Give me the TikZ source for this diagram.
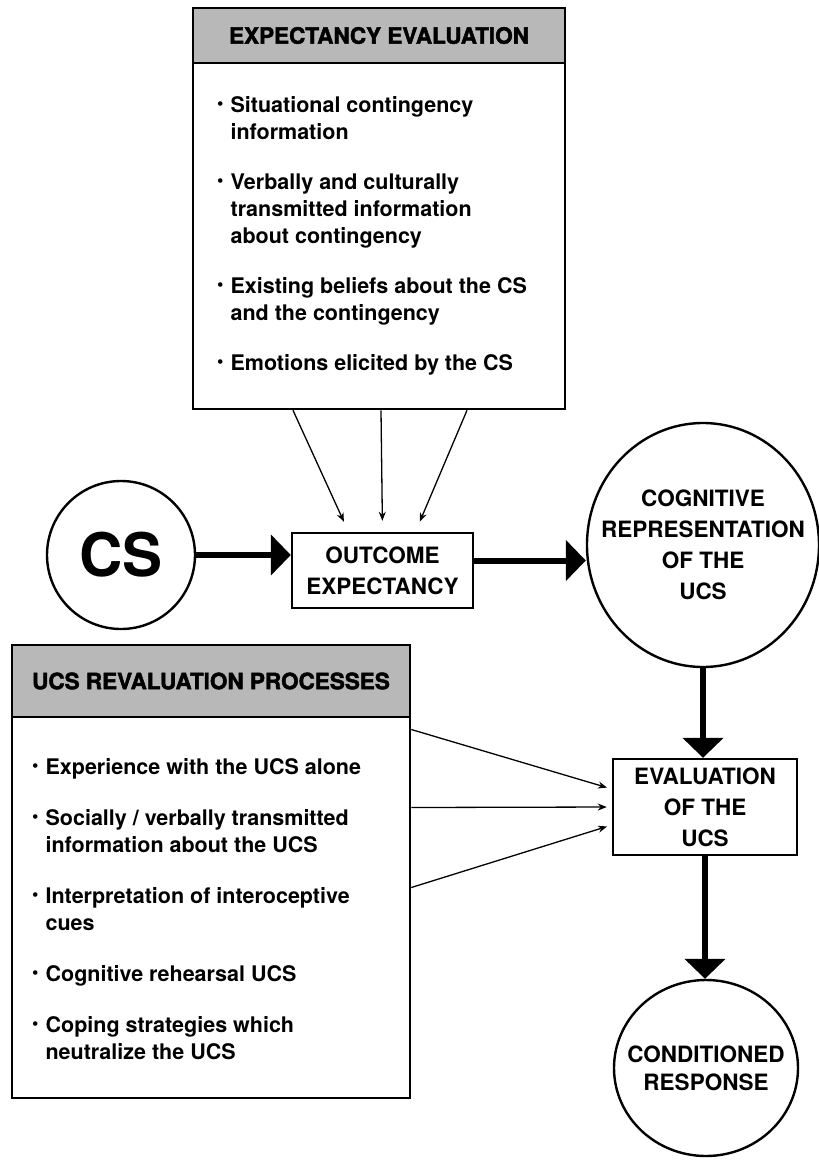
\documentclass[tikz,border=0pt]{standalone}
\usepackage{fontspec}
\setmainfont{TeX Gyre Heros}
\newfontfamily\headfont[BoldFeatures={FakeBold=2}]{TeX Gyre Heros}
\usetikzlibrary{arrows.meta,shapes.geometric}
\newcommand{\bul}{\raisebox{0.2ex}{\scalebox{0.85}{\textbullet}}}
\newcommand{\ctrline}[1]{\makebox[0pt]{#1}}

\begin{document}
\begin{tikzpicture}[x=1pt,y=-1pt,
  every node/.style={font=\bfseries\fontsize{22.5}{31}\selectfont},
  panel/.style={draw,line width=2.6pt,inner sep=0pt},
  panelhead/.style={panel,fill=black!28,font=\headfont\bfseries\fontsize{22.5}{27}\selectfont},
  itemlist/.style={anchor=base west,inner sep=0pt,align=left,font=\bfseries\fontsize{21.5}{27}\selectfont},
  stagebox/.style={draw,line width=2.4pt,inner sep=0pt,align=center},
  stagecirc/.style={draw,circle,line width=2.4pt,inner sep=0pt,align=center},
  stageoval/.style={draw,ellipse,line width=2.4pt,inner sep=0pt,align=center},
  bigarrow/.style={line width=6pt,-{Triangle[length=20pt,width=40pt]}},
  thinarrow/.style={line width=1.3pt,-{Stealth[length=9pt,width=7pt]}}]
\useasboundingbox (0,0) rectangle (819,1162);

% expectancy panel
\node[panel,minimum width=372pt,minimum height=401pt] (expbox) at (379,208.5) {};
\node[panelhead,minimum width=372pt,minimum height=55pt] (exphead) at (379,35.5) {EXPECTANCY EVALUATION};
\node[itemlist] (explist) at (217,112) {\begin{tabular}[t]{@{}l@{\hspace{7pt}}l@{}}
\bul & Situational contingency\\
     & information\\[23pt]
\bul & Verbally and culturally\\
     & transmitted information\\
     & about contingency\\[23pt]
\bul & Existing beliefs about the CS\\
     & and the contingency\\[23pt]
\bul & Emotions elicited by the CS
\end{tabular}};

% revaluation panel
\node[panel,minimum width=398pt,minimum height=453pt] (revbox) at (211,871.5) {};
\node[panelhead,minimum width=398pt,minimum height=72pt] (revhead) at (211,681) {UCS REVALUATION PROCESSES};
\node[itemlist] (revlist) at (32,774) {\begin{tabular}[t]{@{}l@{\hspace{7pt}}l@{}}
\bul & Experience with the UCS alone\\[24pt]
\bul & Socially / verbally transmitted\\
     & information about the UCS\\[24pt]
\bul & Interpretation of interoceptive\\
     & cues\\[24pt]
\bul & Cognitive rehearsal UCS\\[24pt]
\bul & Coping strategies which\\
     & neutralize the UCS
\end{tabular}};

% main chain
\node[stagecirc,minimum size=148pt,font=\bfseries\fontsize{60}{60}\selectfont] (cs) at (121,555) {CS};
\node[stagebox,minimum width=181pt,minimum height=75pt] (outcome) at (382.5,570.5) {OUTCOME\\EXPECTANCY};
\node[stageoval,minimum width=232pt,minimum height=244pt] (cog) at (703,545) {COGNITIVE\\\ctrline{REPRESENTATION}\\OF THE\\UCS};
\node[stagebox,minimum width=184pt,minimum height=96pt] (eval) at (705,807) {EVALUATION\\OF THE\\UCS};
\node[stageoval,minimum width=184pt,minimum height=176pt,font=\bfseries\fontsize{22.5}{28}\selectfont] (cond) at (706,1068) {\ctrline{CONDITIONED}\\RESPONSE};

\draw[bigarrow] (cs.east) -- (cs.east -| outcome.west);
\draw[bigarrow] ([yshift=10pt]outcome.east) -- ([yshift=10pt]outcome.east -| cog.west);
\draw[bigarrow] (cog.south) -- (cog.south |- eval.north);
\draw[bigarrow] (eval.south) -- (eval.south |- cond.north);

\foreach \from/\to in {-86/-34,2/0,88/33}
  \draw[thinarrow,shorten >=11pt] ([xshift=\from pt]expbox.south) -- ([xshift=\to pt]outcome.north);
\foreach \from/\to in {142/18,64/0,-16/-18}
  \draw[thinarrow,shorten >=5pt] ([yshift=\from pt]revbox.east) -- ([yshift=\to pt]eval.west);
\end{tikzpicture}
\end{document}
